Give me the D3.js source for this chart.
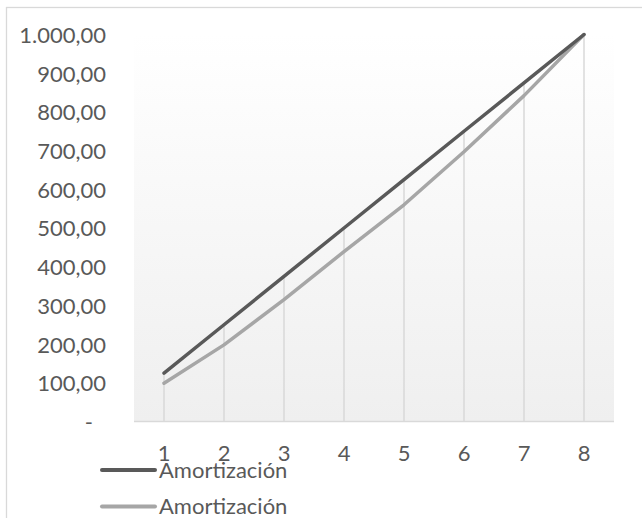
<!DOCTYPE html>
<html>
<head>
<meta charset="utf-8">
<script src="https://cdn.jsdelivr.net/npm/d3@7/dist/d3.min.js"></script>
<style>
  html, body { margin: 0; padding: 0; background: #ffffff; }
  svg { display: block; }
  text { font-family: Lato, "Open Sans", sans-serif; fill: #595959; }
</style>
</head>
<body>
<svg id="chart" width="642" height="518"></svg>
<script>
// ---- data ----
const categories = [1, 2, 3, 4, 5, 6, 7, 8];
const amortizacion1 = [125, 250, 375, 500, 625, 750, 875, 1000];
const amortizacion2 = [99, 198, 315, 439, 560, 697, 842, 1000];
const seriesNames = ["Amortización", "Amortización"];
const yTicks = [0, 100, 200, 300, 400, 500, 600, 700, 800, 900, 1000];

// ---- layout ----
const W = 642, H = 518;
const plot = { left: 134, right: 614, top: 34.5, bottom: 421.5 };
const colors = ["#595959", "#a6a6a6"];

const svg = d3.select("#chart");

const locale = d3.formatLocale({ decimal: ",", thousands: ".", grouping: [3], currency: ["", ""] });
const fmt = locale.format(",.2f");

const x = d3.scaleBand().domain(categories).range([plot.left, plot.right]).padding(0);
const cx = d => x(d) + x.bandwidth() / 2;
const y = d3.scaleLinear().domain([0, 1000]).range([plot.bottom, plot.top]);

// outer frame
svg.append("rect")
  .attr("x", 6.5).attr("y", 7.5).attr("width", W + 10).attr("height", H + 10)
  .attr("fill", "#ffffff").attr("stroke", "#d9d9d9").attr("stroke-width", 1.3);

// plot background gradient
const defs = svg.append("defs");
const grad = defs.append("linearGradient").attr("id", "bg")
  .attr("x1", 0).attr("y1", 0).attr("x2", 0).attr("y2", 1);
grad.append("stop").attr("offset", "0%").attr("stop-color", "#ffffff");
grad.append("stop").attr("offset", "100%").attr("stop-color", "#efefef");
svg.append("rect")
  .attr("x", plot.left).attr("y", plot.top)
  .attr("width", plot.right - plot.left).attr("height", plot.bottom - plot.top)
  .attr("fill", "url(#bg)");

// drop lines
svg.append("g").selectAll("line")
  .data(categories)
  .join("line")
  .attr("x1", d => cx(d)).attr("x2", d => cx(d))
  .attr("y1", y(0))
  .attr("y2", (d, i) => y(Math.max(amortizacion1[i], amortizacion2[i])))
  .attr("stroke", "#d9d9d9").attr("stroke-width", 1.5);

// baseline
svg.append("line")
  .attr("x1", plot.left).attr("x2", plot.right)
  .attr("y1", y(0)).attr("y2", y(0))
  .attr("stroke", "#d9d9d9").attr("stroke-width", 1.5);

// y axis labels
const yAxis = d3.axisLeft(y).tickValues(yTicks).tickSize(0).tickPadding(0)
  .tickFormat(d => d === 0 ? "-" : fmt(d));
const gy = svg.append("g").attr("transform", "translate(106,0)").call(yAxis);
gy.select(".domain").remove();
gy.selectAll("text")
  .attr("font-family", "Lato, 'Open Sans', sans-serif")
  .attr("font-size", 22).attr("fill", "#595959")
  .attr("dy", "0.36em")
  .attr("x", d => d === 0 ? -13 : 0);

// x axis labels
const xAxis = d3.axisBottom(x).tickSize(0).tickPadding(0);
const gx = svg.append("g").attr("transform", `translate(0,${y(0)})`).call(xAxis);
gx.select(".domain").remove();
gx.selectAll("text")
  .attr("font-family", "Lato, 'Open Sans', sans-serif")
  .attr("font-size", 22).attr("fill", "#595959")
  .attr("y", 32).attr("dy", "0.36em");

// series lines
const line = d3.line().x((d, i) => cx(categories[i])).y(d => y(d));
[amortizacion2, amortizacion1].forEach((s, k) => {
  const idx = k === 0 ? 1 : 0;
  svg.append("path")
    .attr("d", line(s))
    .attr("fill", "none")
    .attr("stroke", colors[idx])
    .attr("stroke-width", 3.5)
    .attr("stroke-linecap", "round")
    .attr("stroke-linejoin", "round");
});

// legend
const legendY = [470, 506.5];
const lg = svg.append("g");
seriesNames.forEach((name, i) => {
  lg.append("line")
    .attr("x1", 102).attr("x2", 155)
    .attr("y1", legendY[i]).attr("y2", legendY[i])
    .attr("stroke", colors[i]).attr("stroke-width", 4)
    .attr("stroke-linecap", "round");
  lg.append("text")
    .attr("x", 159).attr("y", legendY[i]).attr("dy", "0.36em")
    .attr("font-size", 22)
    .text(name);
});
</script>
</body>
</html>
